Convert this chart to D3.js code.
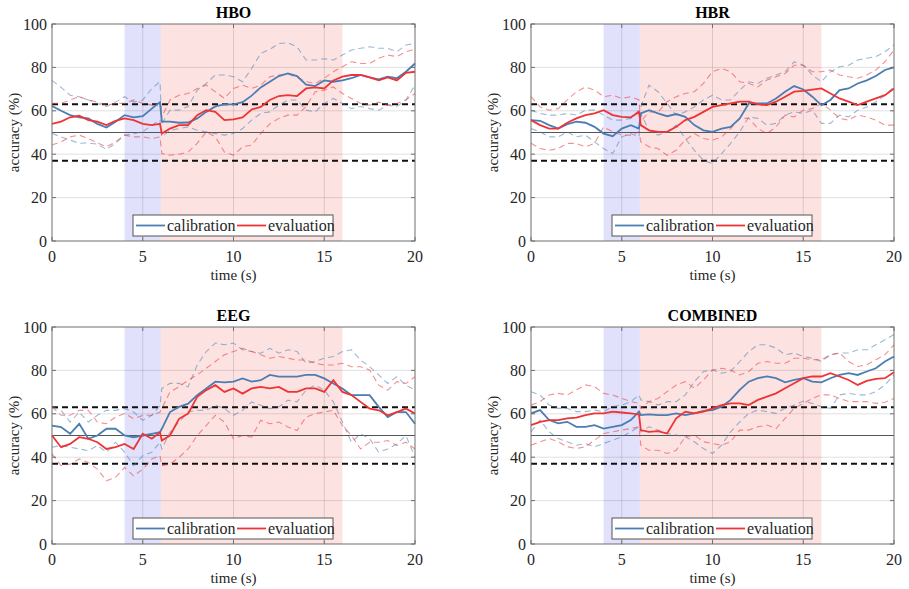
<!DOCTYPE html>
<html>
<head>
<meta charset="utf-8">
<script src="https://cdn.jsdelivr.net/npm/d3@7"></script>
<style>
  body { margin: 0; background: #fff; }
</style>
</head>
<body>
<div id="chart"></div>
<script>
// time axis (s) shared by all series
var times = [0,0.5,1,1.5,2,2.5,3,3.5,4,4.5,5,5.5,5.95,6.05,6.5,7,7.5,8,8.5,9,9.5,10,10.5,11,11.5,12,12.5,13,13.5,14,14.5,15,15.5,16,16.5,17,17.5,18,18.5,19,19.5,20];

// HBO
var hboCalMean = [62.2,60,58,57,56.5,54,52.3,55,58,57,57.5,61,64,55,55,54.5,54.6,56.5,59.5,62,63,63,64,67,70.8,73.4,76,77.2,76,72,71.4,74,73.4,74,75,76.5,75.4,74.5,75.7,75,78,81.8];
var hboCalUp   = [74,70.8,67.2,66.5,65,63.4,62,64,66.5,64,65,70.3,73.4,54,60.3,60.3,62,69.5,72.6,76.5,76.5,75.7,73.4,79.5,86.5,88.3,91,91.4,89.5,83.4,83.4,84,83.4,85.7,88,88.8,89.5,88.8,88.8,87.2,90.3,91];
var hboCalLo   = [49.5,48,46.5,45,45.2,44.6,42.2,45,48.8,49.5,50.3,53.4,55.7,48,51,51.8,52.6,51,50.3,49.5,48.8,49.5,51.8,55.7,58.8,59.5,62.6,65,65,60.3,59.5,63.4,65.7,63.4,61,62,61,60.3,62.6,62,65,71.8];
var hboEvMean  = [54,55,57,57.7,55.7,55,53.4,55.4,56.5,55.7,54,53.4,54,49.5,51.8,53.4,53.4,58,60.3,59.5,55.7,56,57,60.6,61.8,65,66.8,67.2,66.8,70.3,70.8,70.3,74,75.7,76.5,76.5,75.4,74,75.4,74,77.5,78];
var hboEvUp    = [63.4,63.4,65,66.5,65,64,62.6,63.4,63.4,65,63.4,62.6,63.4,57.2,65,67.2,68,70.3,71.8,68.8,65.7,70.3,71.8,70.3,71.8,75.7,76.5,77,75.4,73.4,72.6,75,78,80.3,82.6,81.8,81.8,84.2,85.7,85,87.2,88.3];
var hboEvLo    = [44.2,45.7,48,48.8,47.2,45.2,43.4,45.7,48.8,48,48,47.2,48,40.3,39.5,40,41,45,50.3,48,41,39.5,43.4,44.2,49.5,54,56.5,58,58,62,68.8,69.5,71,68,65.7,63.4,62.6,64,62.6,63.4,65,68];

// HBR
var hbrCalMean = [55.7,55.4,53.4,51.8,53.8,55,54.5,52.6,49.5,48.3,51.8,53.4,51.8,58.8,60.3,58.8,57.5,58.5,57.2,53.4,51,50.3,51.8,52.6,56.5,63.4,63.4,63.4,65.7,68.8,71.4,69.8,66.5,62.6,65,69.5,70.3,72.6,74,76,78.8,80];
var hbrCalUp   = [60.3,58.8,58,58,58.8,58,60.3,60.3,58,55.7,55.7,56.5,60.3,61.8,71.8,68.8,63.4,58,59.5,61.8,65,67.2,65,65,69.5,73.4,72.6,75,76.5,78,82.6,81,76.5,73.4,78,80.3,81,83.4,84.2,85,87.2,90.3];
var hbrCalLo   = [51.8,50.3,48,48,50.3,48,48.8,45.7,42.6,40.3,48,49.5,48,58.8,51,48.8,50.3,53.4,47.2,41.8,37.2,35.7,40.3,45,50.3,57.2,56.5,53.4,54.2,58,59.5,58.8,60.3,54.2,54.2,58,57.2,60.3,61.8,64.2,67.2,71];
var hbrEvMean  = [55.7,53.4,51.8,51.8,54.5,56.5,58,58.8,60.3,58,57.2,57,59.5,53.4,51,50.3,50.3,52.6,55.7,57.2,59.5,61.8,62.6,63.4,64.2,64.2,63,62.6,64.2,66.5,68.8,69.2,69.8,70.3,68,65.7,64.2,62.6,64.2,65.7,67.2,70.3];
var hbrEvUp    = [66.5,61.8,60.3,61,65,68.8,71,69.5,66.5,67.2,65.7,66.5,65,55,59.5,59.5,64.2,66.5,68,68.8,72.6,78,79.5,78,73.4,72.6,71,74.2,75.7,77.2,81,81,78,78,78.8,76.5,75.7,75,76.5,78.8,82.6,88];
var hbrEvLo    = [45,42.6,41.8,42.6,45,45,43.4,45,52.6,50.3,48.8,48.8,50.3,45.7,43.4,42.6,39.5,41.8,46.5,49.5,47.2,46.5,48,51.8,56.5,56.5,51.8,49.5,52.6,58,57.2,60.3,61,63.4,60.3,56.5,55.7,58,57.2,55.7,53.4,53.4];

// EEG
var eegCalMean = [54.6,53.9,50.8,55.4,48.5,50,53.1,53.1,50,49.2,50,50.8,51.5,53.1,60.8,63.2,64.7,68.6,71.7,74.8,74.5,74.8,76.3,74.8,75.5,77.9,77.1,77.1,77.1,77.9,77.9,76.3,74,71.7,68.6,68.6,68.6,63.2,58.5,60.8,60.8,55.4];
var eegCalUp   = [63.2,61.6,56.2,60.8,56.2,59.3,61.6,61.6,62.4,60.8,57,59.3,63.9,71.7,74,74,72.4,82.5,88.7,92.6,91.8,92.6,89.5,88.7,87.9,90.2,87.9,89.5,88.7,83.3,84.1,85.6,86.4,88.7,89.5,84.8,81.7,77.9,74,77.1,73.2,70.9];
var eegCalLo   = [44.6,45.4,44.6,43.8,43,45.4,42.3,46.9,42.3,36.1,40.7,42.3,46.9,43.8,51.5,56.2,60.8,61.6,61.6,63.9,62.4,59.3,61.6,65.5,63.9,62.4,63.2,66.3,65.5,70.9,73.2,70.9,65.5,56.2,46.9,50.8,48.5,42.3,43.8,46.1,50,39.9];
var eegEvMean  = [50,44.6,46.1,49.2,48.5,46.9,43.8,44.6,46.1,43.8,50.8,48.5,51.5,47.7,50,57.7,60.1,67.8,70.9,73.2,70.1,71.7,69.3,71.7,72.4,71.7,72.4,70.1,70.1,71.7,71.7,70.1,75.5,70.1,68.6,65.5,62.4,61.6,59.3,60.8,62.4,60.1];
var eegEvUp    = [63.2,59.3,59.3,61.6,61.6,56.2,55.4,58.5,60.1,57.7,59.3,59.3,60.8,62.4,70.1,72.4,75.5,77.9,81,84.1,87.2,88.7,90.2,88.7,87.2,85.6,86.4,85.6,84.8,84.8,83.3,82.5,82.5,83.3,81.7,81.7,80.2,73.2,70.9,74.8,74,77.1];
var eegEvLo    = [41.5,36.1,36.8,39.2,37.6,34.5,29.1,30.7,35.3,31.4,34.5,39.2,40.7,36.1,36.8,39.9,43.8,50,54.6,59.3,56.2,48.5,50,49.2,57,55.4,56.2,53.9,52.3,58.5,60.1,60.8,61.6,54.6,50,43.8,46.9,46.9,47.7,45.4,46.9,43.8];

// COMBINED
var cmbCalMean = [60.2,61.7,57.1,55.6,56.3,54,54,54.8,53.2,54,54.8,57.1,61,59.4,59.7,59.4,59.4,60.2,59.4,60.2,61.3,61.7,63.3,66.4,71,74.8,76.4,77.2,76.4,74.5,75.6,76.4,74.8,74.5,76.4,77.9,78.7,77.9,79.5,81,84.1,86.4];
var cmbCalUp   = [70.2,68.7,64,62.5,62.5,61,61,61.7,61,63.3,64,65.6,68.7,66.4,65.6,64,65.6,65.6,68.7,74.8,79.5,80.2,78.7,79.5,84.1,88.7,91.8,91.8,90.3,87.2,88,86.4,85.6,84.1,87.2,88,88,89.5,89.5,91.8,94.1,96.5];
var cmbCalLo   = [51.7,57.1,51.7,48.6,47.1,45.5,46.3,44.8,46.3,47.8,49.4,51.7,54,51.7,54,52.5,50.9,50.2,49.4,47.1,44,41.7,45.5,51.7,56.3,60.2,61.7,61,60.2,62.5,64,65.9,64.8,63.3,62.5,68.7,69.4,68.7,68.7,70.2,73.3,77.9];
var cmbEvMean  = [54.8,56.3,57.1,57.1,57.9,58.2,59.4,60.2,60.2,61,60.6,60.2,59.7,52.5,51.7,52,50.9,57.9,61,60.2,61,62.5,64,64.8,64.8,64,66.4,67.9,69.4,71.8,74.1,76.4,77.2,77.2,78.7,77.2,75.6,73.3,75.2,76.1,76.4,79.2];
var cmbEvUp    = [64,65.6,68.7,69.4,68.7,71,73.3,72.5,69.4,68.7,67.1,65.6,64.8,62.5,65.6,67.1,70.2,73.3,74.8,71.8,75.6,80.2,81,80.2,77.9,79.5,83.3,84.1,83.3,83.3,85.6,85.6,84.9,84.9,87.2,88,84.1,81.8,82.6,84.9,87.2,91.8];
var cmbEvLo    = [45.5,47.1,48.6,47.1,44.8,44,44.8,47.8,50.9,51.7,52.5,53.2,54,45.5,43.2,43.2,41.7,43.2,49.4,50.2,47.1,46.3,45.5,47.1,52.5,52.5,54,54.8,53.2,57.9,62.5,64.8,67.1,68.7,68.7,67.1,65.6,65.6,65.6,64.8,65.3,67.1];

var titles = ["HBO", "HBR", "EEG", "COMBINED"];
var seriesNames = ["calibration", "evaluation"];
var xTicks = [0, 5, 10, 15, 20];
var yTicks = [0, 20, 40, 60, 80, 100];
var chanceLevel = 50;
var significanceBounds = [63, 37];
var calibWindow = [4, 6];
var evalWindow = [6, 16];

var panels = [
  {title: titles[0], cal: [hboCalMean, hboCalUp, hboCalLo], ev: [hboEvMean, hboEvUp, hboEvLo], left: 52, top: 24},
  {title: titles[1], cal: [hbrCalMean, hbrCalUp, hbrCalLo], ev: [hbrEvMean, hbrEvUp, hbrEvLo], left: 531, top: 24},
  {title: titles[2], cal: [eegCalMean, eegCalUp, eegCalLo], ev: [eegEvMean, eegEvUp, eegEvLo], left: 52, top: 327},
  {title: titles[3], cal: [cmbCalMean, cmbCalUp, cmbCalLo], ev: [cmbEvMean, cmbEvUp, cmbEvLo], left: 531, top: 327}
];

var W = 909, H = 589;
var pw = 363, ph = 217;
var calColor = "#4a7db3", evColor = "#ee3434";
var serif = "'Liberation Serif', 'DejaVu Serif', 'Times New Roman', serif";

var svg = d3.select("#chart").append("svg").attr("width", W).attr("height", H)
  .attr("font-family", serif);

var x = d3.scaleLinear().domain([0, 20]).range([0, pw]);
var y = d3.scaleLinear().domain([0, 100]).range([ph, 0]);

function drawPanel(p) {
  var g = svg.append("g").attr("transform", "translate(" + p.left + "," + p.top + ")");

  // shaded windows
  g.append("rect").attr("x", x(calibWindow[0])).attr("y", 0)
    .attr("width", x(calibWindow[1]) - x(calibWindow[0])).attr("height", ph)
    .attr("fill", "#e1e1fb");
  g.append("rect").attr("x", x(evalWindow[0])).attr("y", 0)
    .attr("width", x(evalWindow[1]) - x(evalWindow[0])).attr("height", ph)
    .attr("fill", "#fde2e2");

  // grid
  g.selectAll(".gx").data(xTicks.slice(1, -1)).enter().append("line")
    .attr("x1", d => x(d)).attr("x2", d => x(d)).attr("y1", 0).attr("y2", ph)
    .attr("stroke", "#000").attr("stroke-opacity", 0.12);
  g.selectAll(".gy").data(yTicks.slice(1, -1)).enter().append("line")
    .attr("y1", d => y(d)).attr("y2", d => y(d)).attr("x1", 0).attr("x2", pw)
    .attr("stroke", "#000").attr("stroke-opacity", 0.12);

  // chance level and significance bounds
  g.append("line").attr("x1", 0).attr("x2", pw).attr("y1", y(chanceLevel)).attr("y2", y(chanceLevel))
    .attr("stroke", "#555").attr("stroke-width", 1.2);
  significanceBounds.forEach(function(v) {
    g.append("line").attr("x1", 0).attr("x2", pw).attr("y1", y(v)).attr("y2", y(v))
      .attr("stroke", "#111").attr("stroke-width", 2).attr("stroke-dasharray", "6,4");
  });

  var line = d3.line().x((d, i) => x(times[i])).y(d => y(d));

  // bounds (dashed)
  [[p.cal, calColor], [p.ev, evColor]].forEach(function(s) {
    [s[0][1], s[0][2]].forEach(function(arr) {
      g.append("path").datum(arr).attr("d", line).attr("fill", "none")
        .attr("stroke", s[1]).attr("stroke-opacity", 0.55).attr("stroke-width", 1.1)
        .attr("stroke-dasharray", "6,4");
    });
  });
  // means
  g.append("path").datum(p.cal[0]).attr("d", line).attr("fill", "none")
    .attr("stroke", calColor).attr("stroke-width", 1.8);
  g.append("path").datum(p.ev[0]).attr("d", line).attr("fill", "none")
    .attr("stroke", evColor).attr("stroke-width", 1.8);

  // box
  g.append("rect").attr("width", pw).attr("height", ph).attr("fill", "none")
    .attr("stroke", "#6e6e6e").attr("stroke-width", 1);

  // ticks inward on all sides
  var tl = 4;
  xTicks.forEach(function(t) {
    g.append("line").attr("x1", x(t)).attr("x2", x(t)).attr("y1", ph).attr("y2", ph - tl).attr("stroke", "#6e6e6e");
    g.append("line").attr("x1", x(t)).attr("x2", x(t)).attr("y1", 0).attr("y2", tl).attr("stroke", "#6e6e6e");
    g.append("text").attr("x", x(t)).attr("y", ph + 21).attr("text-anchor", "middle")
      .attr("font-size", 16).attr("fill", "#262626").text(t);
  });
  yTicks.forEach(function(t) {
    g.append("line").attr("x1", 0).attr("x2", tl).attr("y1", y(t)).attr("y2", y(t)).attr("stroke", "#6e6e6e");
    g.append("line").attr("x1", pw).attr("x2", pw - tl).attr("y1", y(t)).attr("y2", y(t)).attr("stroke", "#6e6e6e");
    g.append("text").attr("x", -5).attr("y", y(t)).attr("dy", "0.35em").attr("text-anchor", "end")
      .attr("font-size", 16).attr("fill", "#262626").text(t);
  });

  // labels
  g.append("text").attr("x", pw / 2).attr("y", ph + 39).attr("text-anchor", "middle")
    .attr("font-size", 15).attr("fill", "#262626").text("time (s)");
  g.append("text").attr("transform", "translate(-33," + (ph / 2) + ") rotate(-90)")
    .attr("text-anchor", "middle").attr("font-size", 15).attr("fill", "#262626").text("accuracy (%)");
  g.append("text").attr("x", pw / 2).attr("y", -6).attr("text-anchor", "middle")
    .attr("font-size", 16).attr("font-weight", "bold").attr("fill", "#000").text(p.title);

  // legend
  var lg = g.append("g").attr("transform", "translate(" + 81 + "," + 191 + ")");
  lg.append("rect").attr("width", 200).attr("height", 21).attr("fill", "#fff")
    .attr("stroke", "#555").attr("stroke-width", 1);
  [[seriesNames[0], calColor, 3], [seriesNames[1], evColor, 104]].forEach(function(e) {
    lg.append("line").attr("x1", e[2]).attr("x2", e[2] + 29).attr("y1", 10.5).attr("y2", 10.5)
      .attr("stroke", e[1]).attr("stroke-width", 1.8);
    lg.append("text").attr("x", e[2] + 31).attr("y", 10.5).attr("dy", "0.35em")
      .attr("font-size", 16).attr("fill", "#262626").text(e[0]);
  });
}

panels.forEach(drawPanel);
</script>
</body>
</html>
